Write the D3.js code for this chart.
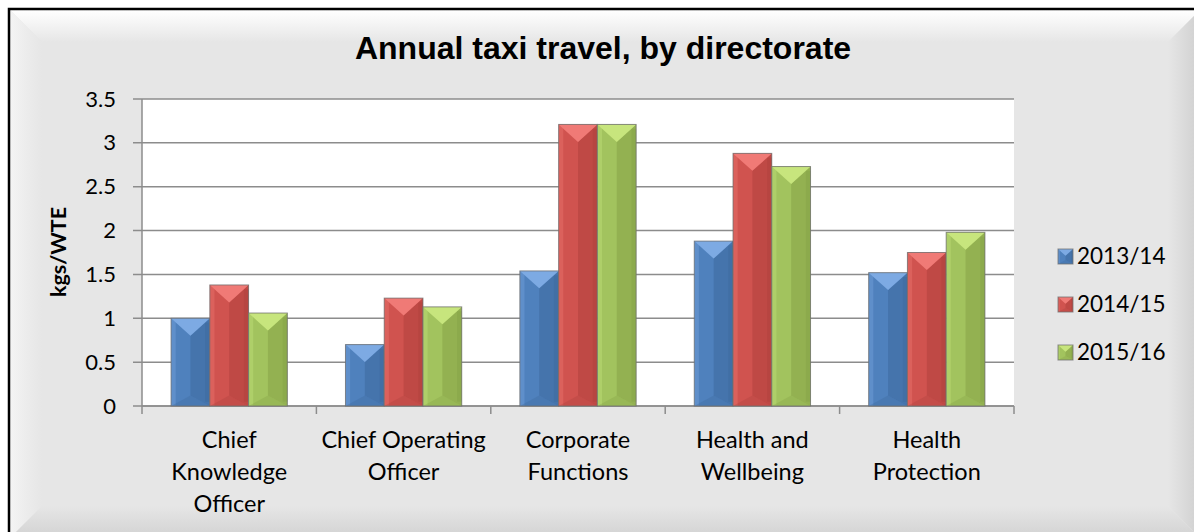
<!DOCTYPE html>
<html>
<head>
<meta charset="utf-8">
<script src="https://cdn.jsdelivr.net/npm/d3@7"></script>
<style>
  html, body { margin: 0; padding: 0; background: #ffffff; }
  svg { display: block; }
</style>
</head>
<body>
<svg id="chart" width="1194" height="532"></svg>
<script>
// Directorates (x-axis categories, line-broken labels)
const categories = ["Chief Knowledge Officer", "Chief Operating Officer", "Corporate Functions", "Health and Wellbeing", "Health Protection"];
const categoryLines = [["Chief", "Knowledge", "Officer"], ["Chief Operating", "Officer"], ["Corporate", "Functions"], ["Health and", "Wellbeing"], ["Health", "Protection"]];

// Financial years (series)
const seriesNames = ["2013/14", "2014/15", "2015/16"];
const values2013 = [1.00, 0.70, 1.54, 1.88, 1.52];
const values2014 = [1.38, 1.23, 3.21, 2.88, 1.75];
const values2015 = [1.06, 1.13, 3.21, 2.73, 1.98];

// Y-axis ticks
const yTicks = [0, 0.5, 1, 1.5, 2, 2.5, 3, 3.5];
const yTickLabels = ["0", "0.5", "1", "1.5", "2", "2.5", "3", "3.5"];

const seriesValues = [values2013, values2014, values2015];
const seriesColors = [
  { base: "#4F81BD", light: "#7DAAE3", dark: "#3E6A9E", edge: "#3A5F8C" },
  { base: "#D0534F", light: "#F07A76", dark: "#B0413E", edge: "#8E3633" },
  { base: "#A2C35E", light: "#C7E57D", dark: "#86A347", edge: "#6F8A3A" }
];

const W = 1194, H = 532;
const svg = d3.select("#chart");
const defs = svg.append("defs");
const font = "Lato, 'Open Sans', sans-serif";

// ---- chart area background with bevelled frame ----
const bgGrad = defs.append("linearGradient").attr("id", "topFade").attr("x1", 0).attr("y1", 0).attr("x2", 0).attr("y2", 1);
bgGrad.append("stop").attr("offset", 0).attr("stop-color", "#ffffff");
bgGrad.append("stop").attr("offset", 1).attr("stop-color", "#e6e6e6");
const leftGrad = defs.append("linearGradient").attr("id", "leftFade").attr("x1", 0).attr("y1", 0).attr("x2", 1).attr("y2", 0);
leftGrad.append("stop").attr("offset", 0).attr("stop-color", "#f4f4f4");
leftGrad.append("stop").attr("offset", 0.5).attr("stop-color", "#ececec");
leftGrad.append("stop").attr("offset", 1).attr("stop-color", "#e6e6e6");
const rightGrad = defs.append("linearGradient").attr("id", "rightFade").attr("x1", 0).attr("y1", 0).attr("x2", 1).attr("y2", 0);
rightGrad.append("stop").attr("offset", 0).attr("stop-color", "#e6e6e6");
rightGrad.append("stop").attr("offset", 1).attr("stop-color", "#cfcfcf");
const botGrad = defs.append("linearGradient").attr("id", "botFade").attr("x1", 0).attr("y1", 0).attr("x2", 0).attr("y2", 1);
botGrad.append("stop").attr("offset", 0).attr("stop-color", "#e6e6e6");
botGrad.append("stop").attr("offset", 1).attr("stop-color", "#d2d2d2");

const fx0 = 10, fy0 = 10, fx1 = W + 6, fy1 = H + 6, bev = 32;
svg.append("rect").attr("x", fx0).attr("y", fy0).attr("width", fx1 - fx0).attr("height", fy1 - fy0).attr("fill", "#e6e6e6");
// top bevel
svg.append("polygon").attr("points", [[fx0, fy0], [fx1, fy0], [fx1 - bev, fy0 + bev], [fx0 + bev, fy0 + bev]].join(" ")).attr("fill", "url(#topFade)");
// left bevel
svg.append("polygon").attr("points", [[fx0, fy0], [fx0 + bev, fy0 + bev], [fx0 + bev, fy1 - bev], [fx0, fy1]].join(" ")).attr("fill", "url(#leftFade)");
// right bevel
svg.append("polygon").attr("points", [[fx1, fy0], [fx1, fy1], [fx1 - bev, fy1 - bev], [fx1 - bev, fy0 + bev]].join(" ")).attr("fill", "url(#rightFade)");
// bottom bevel
svg.append("polygon").attr("points", [[fx0, fy1], [fx0 + bev, fy1 - bev], [fx1 - bev, fy1 - bev], [fx1, fy1]].join(" ")).attr("fill", "url(#botFade)");
// outer border
svg.append("rect").attr("x", fx0 - 1).attr("y", fy0 - 1).attr("width", fx1 - fx0 + 2).attr("height", fy1 - fy0 + 2)
  .attr("fill", "none").attr("stroke", "#000").attr("stroke-width", 2.5);

// ---- scales ----
const plot = { left: 142, right: 1014, top: 99, bottom: 406 };
const x0 = d3.scaleBand().domain(categories).range([plot.left, plot.right]).paddingInner(0).paddingOuter(0);
const groupInner = x0.bandwidth() * 3 / 4.5; // gap width 150%
const x1 = d3.scaleBand().domain(seriesNames).range([0, groupInner]).padding(0);
const y = d3.scaleLinear().domain([0, 3.5]).range([plot.bottom, plot.top]);

// plot area
svg.append("rect").attr("x", plot.left).attr("y", plot.top).attr("width", plot.right - plot.left).attr("height", plot.bottom - plot.top).attr("fill", "#ffffff");

// gridlines
svg.append("g").selectAll("line").data(yTicks).join("line")
  .attr("x1", plot.left - 9).attr("x2", plot.right)
  .attr("y1", d => y(d)).attr("y2", d => y(d))
  .attr("stroke", "#8c8c8c").attr("stroke-width", 1.5);

// y axis
const yAxis = d3.axisLeft(y).tickValues(yTicks).tickFormat((d, i) => yTickLabels[i]).tickSize(0).tickPadding(26);
const yg = svg.append("g").attr("transform", `translate(${plot.left},0)`).call(yAxis);
yg.select(".domain").remove();
yg.selectAll("text").attr("font-family", font).attr("font-size", 22).attr("fill", "#000");
svg.append("line").attr("x1", plot.left).attr("x2", plot.left).attr("y1", plot.top).attr("y2", plot.bottom + 8)
  .attr("stroke", "#8c8c8c").attr("stroke-width", 1.5);

// x axis with ticks at category boundaries
const xg = svg.append("g");
xg.append("line").attr("x1", plot.left).attr("x2", plot.right).attr("y1", plot.bottom).attr("y2", plot.bottom)
  .attr("stroke", "#8c8c8c").attr("stroke-width", 1.5);
xg.selectAll("line.tick").data(categories).join("line").attr("class", "tick")
  .attr("x1", d => x0(d) + x0.bandwidth()).attr("x2", d => x0(d) + x0.bandwidth())
  .attr("y1", plot.bottom).attr("y2", plot.bottom + 8)
  .attr("stroke", "#8c8c8c").attr("stroke-width", 1.5);

// category labels
categories.forEach((c, i) => {
  const t = svg.append("text").attr("x", x0(c) + x0.bandwidth() / 2).attr("y", 448)
    .attr("text-anchor", "middle").attr("font-family", font).attr("font-size", 23.5).attr("fill", "#000");
  categoryLines[i].forEach((ln, j) => {
    t.append("tspan").attr("x", x0(c) + x0.bandwidth() / 2).attr("dy", j === 0 ? 0 : 32).text(ln);
  });
});

// ---- bevelled bars ----
function drawBar(g, bx, by, bw, bh, col) {
  const cx = bx + bw / 2;
  const d = Math.min(bw * 0.45, bh / 2);
  g.append("rect").attr("x", bx).attr("y", by).attr("width", bw).attr("height", bh).attr("fill", col.base);
  // right darker face
  g.append("polygon").attr("points", [[cx, by + d], [bx + bw, by], [bx + bw, by + bh], [cx, by + bh - Math.min(d * 0.6, bh / 2)]].join(" "))
    .attr("fill", col.dark).attr("opacity", 0.55);
  // inner right face strip
  g.append("rect").attr("x", bx + bw - bw * 0.12).attr("y", by + d * 0.25).attr("width", bw * 0.12).attr("height", Math.max(0, bh - d * 0.5))
    .attr("fill", col.dark).attr("opacity", 0.5);
  // left lighter strip
  g.append("rect").attr("x", bx).attr("y", by).attr("width", bw * 0.12).attr("height", bh)
    .attr("fill", col.light).attr("opacity", 0.35);
  // top light chevron
  g.append("polygon").attr("points", [[bx, by], [bx + bw, by], [cx, by + d]].join(" ")).attr("fill", col.light);
  // bottom shading
  g.append("polygon").attr("points", [[bx, by + bh], [bx + bw, by + bh], [cx, by + bh - Math.min(d * 0.6, bh / 2)]].join(" "))
    .attr("fill", col.dark).attr("opacity", 0.35);
  g.append("rect").attr("x", bx).attr("y", by).attr("width", bw).attr("height", bh)
    .attr("fill", "none").attr("stroke", "#6e6e6e").attr("stroke-opacity", 0.75).attr("stroke-width", 1);
}

const barsG = svg.append("g");
categories.forEach((c, i) => {
  const gx = x0(c) + (x0.bandwidth() - groupInner) / 2;
  seriesNames.forEach((s, k) => {
    const v = seriesValues[k][i];
    drawBar(barsG, gx + x1(s), y(v), x1.bandwidth(), y(0) - y(v), seriesColors[k]);
  });
});

// ---- legend ----
const legend = svg.append("g");
seriesNames.forEach((s, k) => {
  const ly = 256 + k * 48;
  drawBar(legend, 1058, ly - 7, 15, 15, seriesColors[k]);
  legend.append("text").attr("x", 1077).attr("y", ly + 8).attr("font-family", font).attr("font-size", 22.5).attr("fill", "#000").text(s);
});

// ---- titles ----
svg.append("text").attr("x", 603).attr("y", 59).attr("text-anchor", "middle")
  .attr("font-family", "'Liberation Sans', Arial, sans-serif").attr("font-weight", "bold").attr("font-size", 32).attr("fill", "#000")
  .text("Annual taxi travel, by directorate");
svg.append("text").attr("transform", "translate(66,252) rotate(-90)").attr("text-anchor", "middle")
  .attr("font-family", font).attr("font-weight", "bold").attr("font-size", 21.5).attr("fill", "#000").text("kgs/WTE");
</script>
</body>
</html>
